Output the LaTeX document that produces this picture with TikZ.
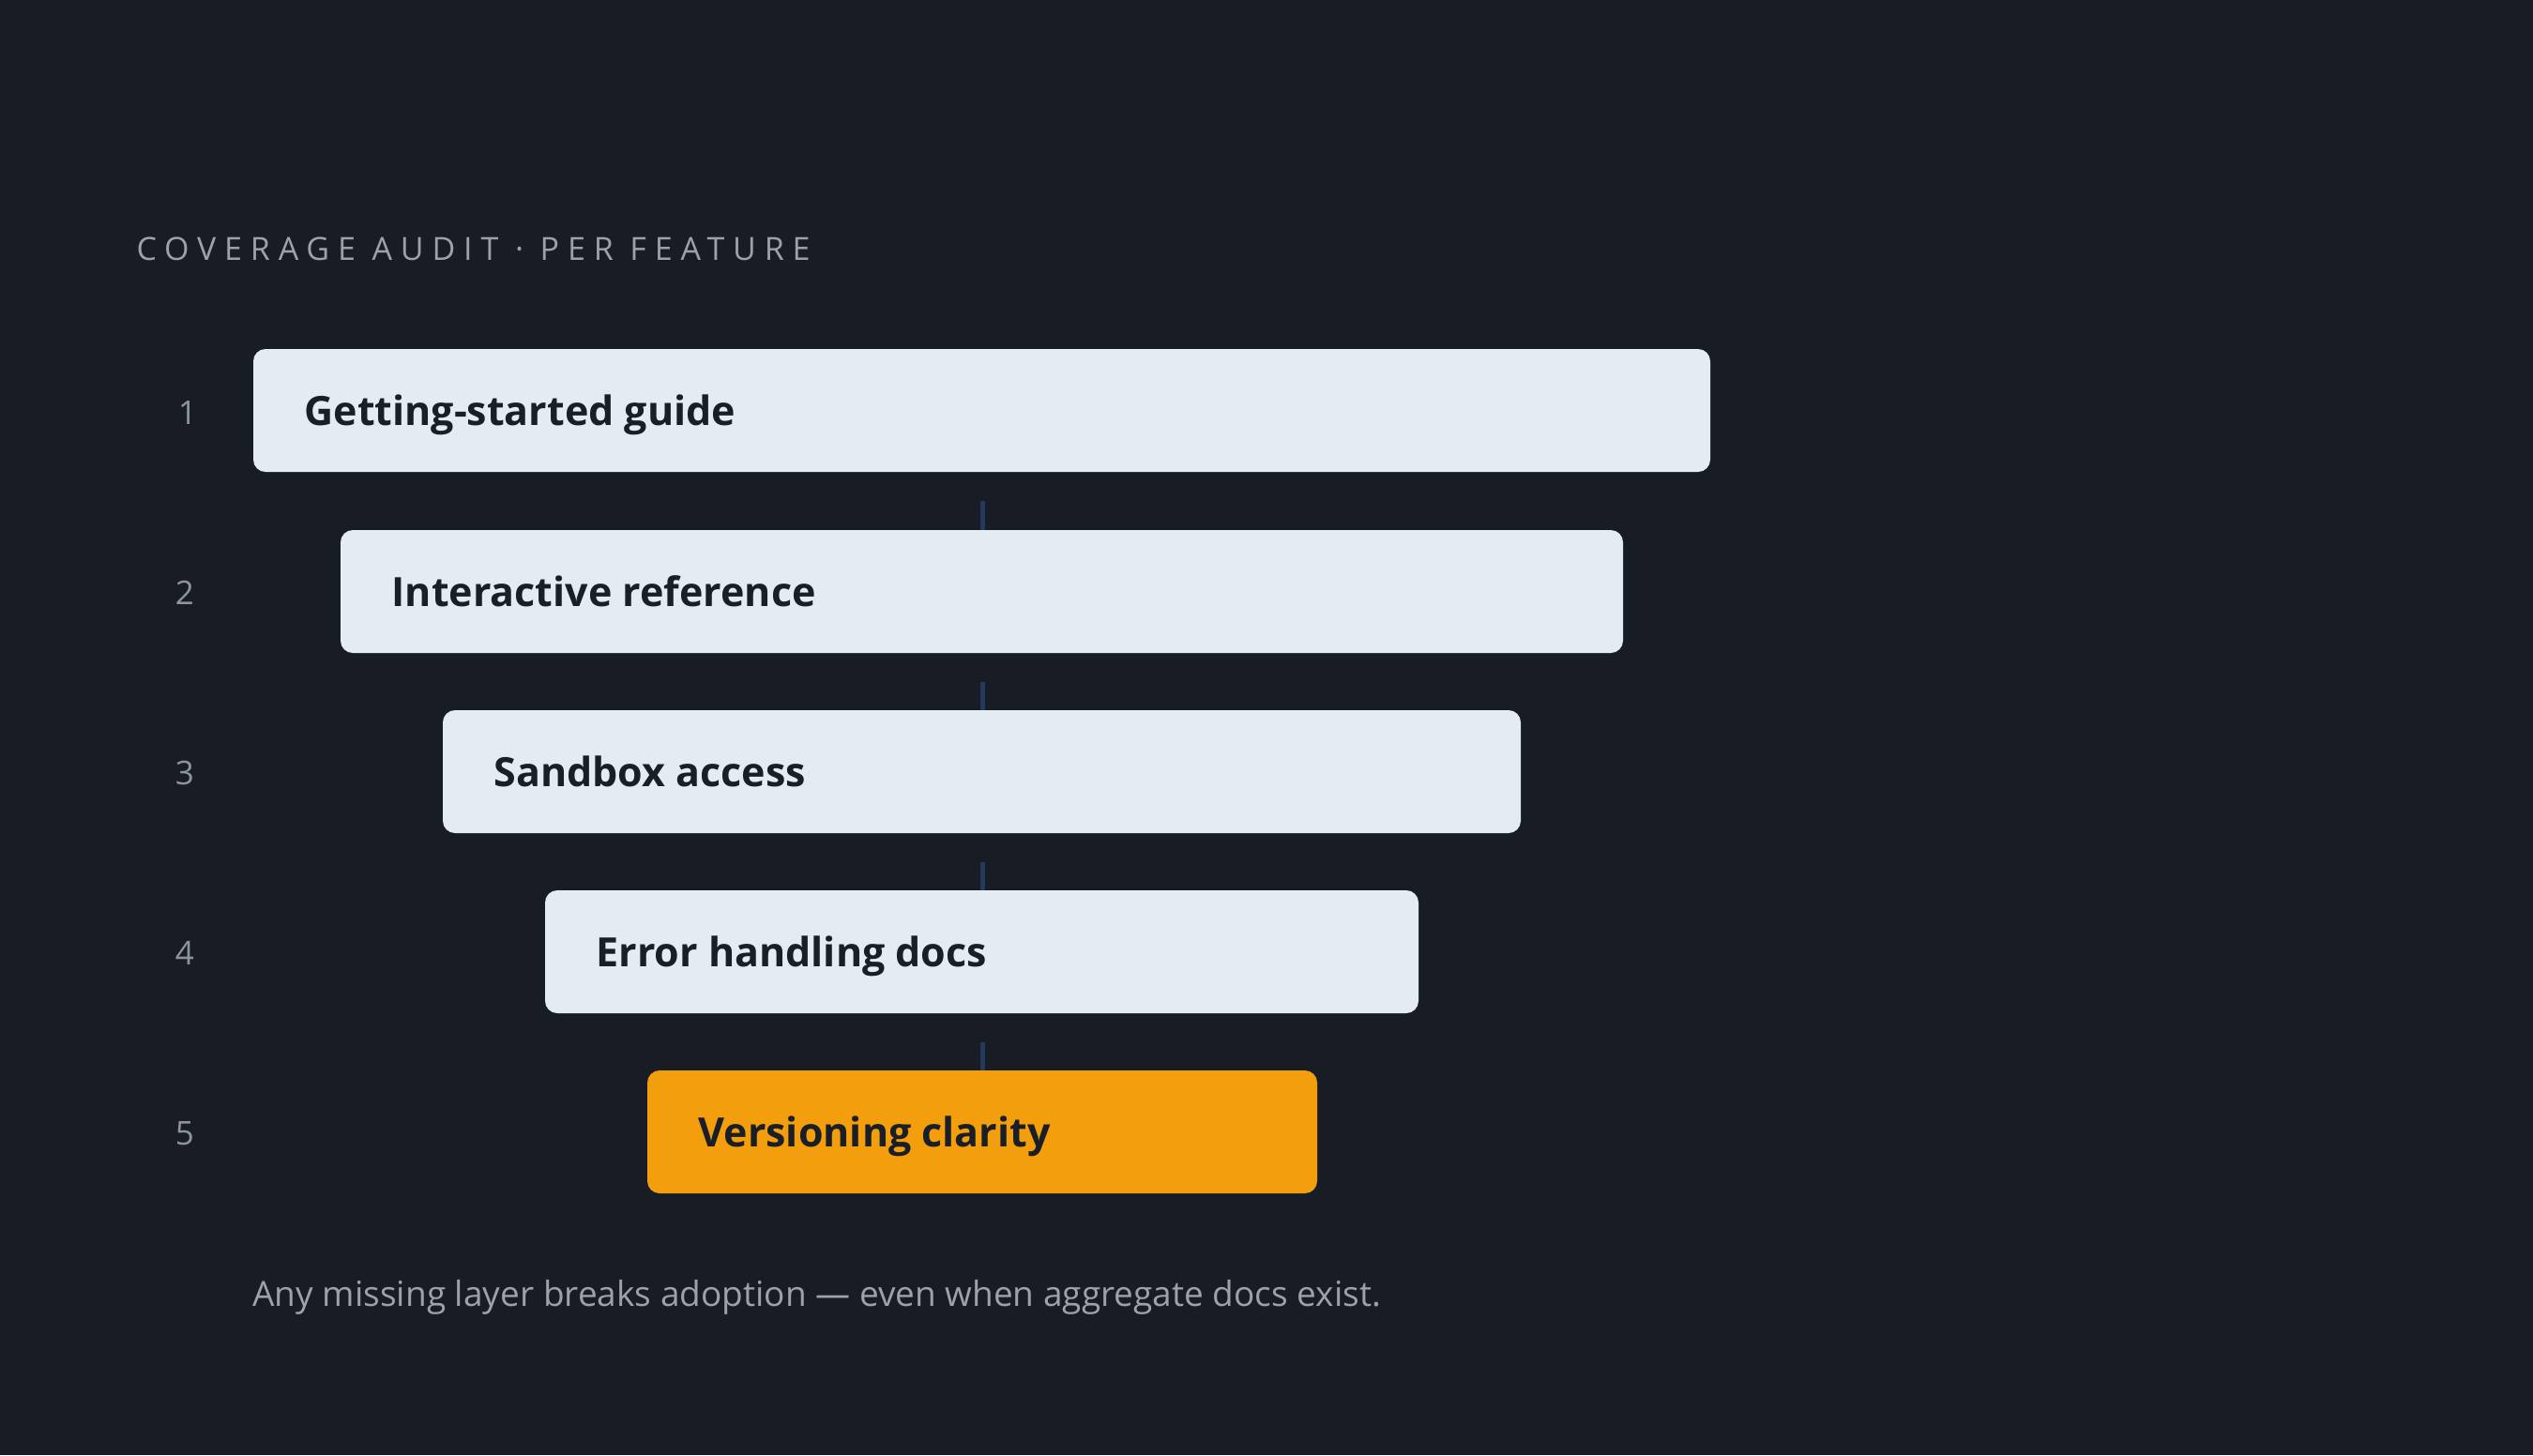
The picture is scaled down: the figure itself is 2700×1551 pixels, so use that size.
\documentclass[tikz,border=0pt]{standalone}
\usepackage{fontspec}
\setmainfont{Open Sans}
\newfontfamily\spacedfont[LetterSpace=26]{Open Sans}
\definecolor{bg}{HTML}{181C24}
\definecolor{boxfill}{HTML}{E5EBF3}
\definecolor{orangefill}{HTML}{F39E0C}
\definecolor{inktext}{HTML}{1A1E26}
\definecolor{graytext}{HTML}{9CA1AA}
\definecolor{numgray}{HTML}{8E949E}
\definecolor{linkblue}{HTML}{233A5E}
\begin{document}
\begin{tikzpicture}[x=1pt,y=-1pt,
  layer/.style={rounded corners=13pt, fill=boxfill, draw=none, inner sep=0pt},
  hot/.style={rounded corners=13pt, fill=orangefill, draw=none, inner sep=0pt},
  label/.style={anchor=base west, text=inktext, font=\fontsize{43}{50}\selectfont\bfseries},
  num/.style={anchor=center, text=numgray, font=\fontsize{35}{40}\selectfont},
  link/.style={draw=linkblue, line width=5pt}]
\fill[bg] (0,0) rectangle (2700,1551);
\useasboundingbox (0,0) rectangle (2700,1551);
\node[anchor=west, text=graytext, font=\fontsize{34}{38}\spacedfont] (title) at (142,265) {COVERAGE AUDIT · PER FEATURE};
% boxes
\path[layer] (270,372) rectangle (1823,503);
\coordinate (b1top) at (1047,372); \coordinate (b1bot) at (1047,503);
\path[layer] (363,565) rectangle (1730,696);
\coordinate (b2top) at (1047,565); \coordinate (b2bot) at (1047,696);
\path[layer] (472,757) rectangle (1621,888);
\coordinate (b3top) at (1047,757); \coordinate (b3bot) at (1047,888);
\path[layer] (581,949) rectangle (1512,1080);
\coordinate (b4top) at (1047,949); \coordinate (b4bot) at (1047,1080);
\path[hot] (690,1141) rectangle (1404,1272);
\coordinate (b5top) at (1047,1141);
% connectors
\coordinate (c1) at (1047,534);
\coordinate (c2) at (1047,727);
\coordinate (c3) at (1047,919);
\coordinate (c4) at (1047,1111);
\draw[link] (c1) -- (b2top);
\draw[link] (c2) -- (b3top);
\draw[link] (c3) -- (b4top);
\draw[link] (c4) -- (b5top);
% labels
\node[label] (l1) at (321,453) {Getting-started guide};
\node[label] (l2) at (414,646) {Interactive reference};
\node[label] (l3) at (523,838) {Sandbox access};
\node[label] (l4) at (632,1030) {Error handling docs};
\node[label] (l5) at (741,1222) {Versioning clarity};
% numbers
\node[num] (n1) at (200,440) {1};
\node[num] (n2) at (197,632) {2};
\node[num] (n3) at (197,824) {3};
\node[num] (n4) at (197,1016) {4};
\node[num] (n5) at (197,1208) {5};
% footer
\node[anchor=west, text=graytext, font=\fontsize{37}{42}\selectfont] (foot) at (266,1383) {Any missing layer breaks adoption — even when aggregate docs exist.};
\end{tikzpicture}
\end{document}
